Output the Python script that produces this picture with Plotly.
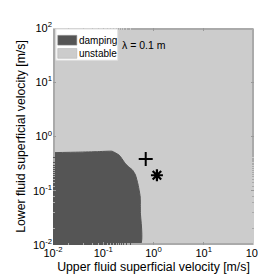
import numpy as np
import plotly.graph_objects as go

# Damping-region boundary (upper fluid velocity, lower fluid velocity), m/s
damp_x = [0.01, 0.0323, 0.0770, 0.119, 0.150, 0.209, 0.262, 0.284, 0.330, 0.385, 0.438, 0.490, 0.521, 0.544, 0.548, 0.548, 0.01]
damp_y = [0.504, 0.515, 0.526, 0.535, 0.535, 0.450, 0.337, 0.308, 0.270, 0.239, 0.195, 0.133, 0.100, 0.0764, 0.040, 0.01, 0.01]

plus_pt = ([0.70], [0.386])
star_pt = ([1.17], [0.193])

x_ticks = [0.01, 0.1, 1, 10, 100]
x_ticktext = ["10<sup>-2</sup>", "10<sup>-1</sup>", "10<sup>0</sup>", "10<sup>1</sup>", "10<sup>2</sup>"]
y_ticks = x_ticks
y_ticktext = x_ticktext

DARK = "#555555"
LIGHT = "#cccccc"
FONT = "Liberation Sans, Arial, sans-serif"

fig = go.Figure()
fig.add_trace(go.Scatter(x=damp_x, y=damp_y, mode="lines", fill="toself",
                         fillcolor=DARK, line=dict(color=DARK, width=1, shape="spline", smoothing=0.5),
                         showlegend=False, hoverinfo="skip"))
fig.add_trace(go.Scatter(x=plus_pt[0], y=plus_pt[1], mode="markers",
                         marker=dict(symbol="cross-thin", size=10, line=dict(color="black", width=2)),
                         showlegend=False))
fig.add_trace(go.Scatter(x=star_pt[0], y=star_pt[1], mode="markers",
                         marker=dict(symbol="asterisk", size=10, line=dict(color="black", width=2.2)),
                         showlegend=False))

L, R, T, B = 43, 12, 15, 39
W, H = 266, 276
pw, ph = W - L - R, H - T - B

def px(x):
    return (x - L) / pw

def py(y):
    return (H - B - y) / ph

shapes = [
    dict(type="rect", xref="paper", yref="paper", x0=px(46), x1=px(111), y0=py(48), y1=py(16),
         fillcolor="white", line=dict(color="#dddddd", width=1)),
    dict(type="rect", xref="paper", yref="paper", x0=px(48), x1=px(68), y0=py(32.5), y1=py(22.5),
         fillcolor=DARK, line=dict(color="#888888", width=0.5)),
    dict(type="rect", xref="paper", yref="paper", x0=px(48), x1=px(68), y0=py(46), y1=py(36),
         fillcolor=LIGHT, line=dict(color="#aaaaaa", width=0.5)),
]
annotations = [
    dict(text="damping", xref="paper", yref="paper", x=px(68), y=py(27.5), xanchor="left", yanchor="middle",
         showarrow=False, font=dict(size=10, color="black", family=FONT)),
    dict(text="unstable", xref="paper", yref="paper", x=px(68), y=py(41), xanchor="left", yanchor="middle",
         showarrow=False, font=dict(size=10, color="black", family=FONT)),
    dict(text="λ = 0.1 m", xref="paper", yref="paper", x=px(113), y=py(32), xanchor="left", yanchor="middle",
         showarrow=False, font=dict(size=10.5, color="black", family=FONT)),
]

axis_common = dict(type="log", range=[-2, 2], ticks="inside", ticklen=3, tickcolor="#999999",
                   minor=dict(ticks="inside", ticklen=2, tickcolor="#aaaaaa", showgrid=False),
                   showgrid=False, zeroline=False, showline=False, mirror="ticks",
                   tickfont=dict(size=11, color="black", family=FONT))

fig.update_layout(
    width=W, height=H,
    margin=dict(l=L, r=R, t=T, b=B),
    paper_bgcolor="white", plot_bgcolor=LIGHT,
    font=dict(family=FONT, color="black"),
    xaxis=dict(**axis_common, tickvals=x_ticks, ticktext=x_ticktext,
               title=dict(text="Upper fluid superficial velocity [m/s]", font=dict(size=12.3), standoff=4)),
    yaxis=dict(**axis_common, tickvals=y_ticks, ticktext=y_ticktext,
               title=dict(text="Lower fluid superficial velocity [m/s]", font=dict(size=12.3), standoff=4)),
    shapes=shapes, annotations=annotations, showlegend=False,
)

fig.write_html("out.html")
